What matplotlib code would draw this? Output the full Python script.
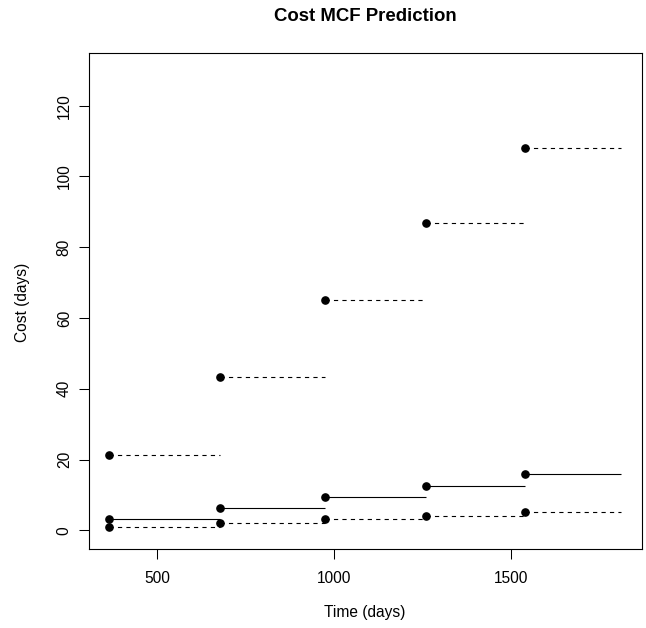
import matplotlib
matplotlib.use("Agg")
import matplotlib.pyplot as plt
import numpy as np

plt.rcParams['font.family'] = ['Liberation Sans', 'DejaVu Sans']

# event times (days) and the end of the last interval
times = [365, 677, 974, 1260, 1539]
t_end = 1810
# cost MCF estimate and its upper / lower bounds
mcf = [3.2, 6.2, 9.4, 12.5, 15.9]
upper = [21.4, 43.2, 65.0, 86.8, 108.0]
lower = [0.9, 2.0, 3.1, 4.0, 5.1]

xticks = [500, 1000, 1500]
yticks = [0, 20, 40, 60, 80, 100, 120]

W, H = 646, 628
fig = plt.figure(figsize=(W / 100, H / 100), dpi=100)
ax = fig.add_axes([88.7 / W, 79.3 / H, 553 / W, 495.4 / H])

ends = times[1:] + [t_end]
lw = 0.8
ax.hlines(mcf, times, ends, colors='black', linewidth=lw)
ax.hlines(upper, times, ends, colors='black', linewidth=lw, linestyles=(0, (3.8, 3.8)))
ax.hlines(lower, times, ends, colors='black', linewidth=lw, linestyles=(0, (3.8, 3.8)))
for ys in (mcf, upper, lower):
    ax.plot(times, ys, 'o', color='black', markersize=5.2, zorder=3)

xmin, xmax = min(times), t_end
ymin, ymax = 0, max(upper) * 1.2
dx, dy = (xmax - xmin) * 0.04, (ymax - ymin) * 0.04
ax.set_xlim(xmin - dx, xmax + dx)
ax.set_ylim(ymin - dy, ymax + dy)

ax.set_xticks(xticks)
ax.set_yticks(yticks)
ax.tick_params(length=7.2, width=0.75, labelsize=11.2)
ax.tick_params(axis='x', pad=9)
ax.tick_params(axis='y', pad=5)
for lab in ax.get_yticklabels():
    lab.set_rotation(90)
    lab.set_va('center')
for s in ax.spines.values():
    s.set_linewidth(0.8)

fig.text(23 / W, 1 - 302 / H, 'Cost (days)', rotation=90, ha='center', va='center', fontsize=11.2)
fig.text(365 / W, 1 - 613 / H, 'Time (days)', ha='center', va='center', fontsize=11.2)
fig.text(365 / W, 1 - 21 / H, 'Cost MCF Prediction', ha='center', va='baseline',
         fontsize=13.4, fontweight='bold')

fig.savefig('out.png', dpi=100)
